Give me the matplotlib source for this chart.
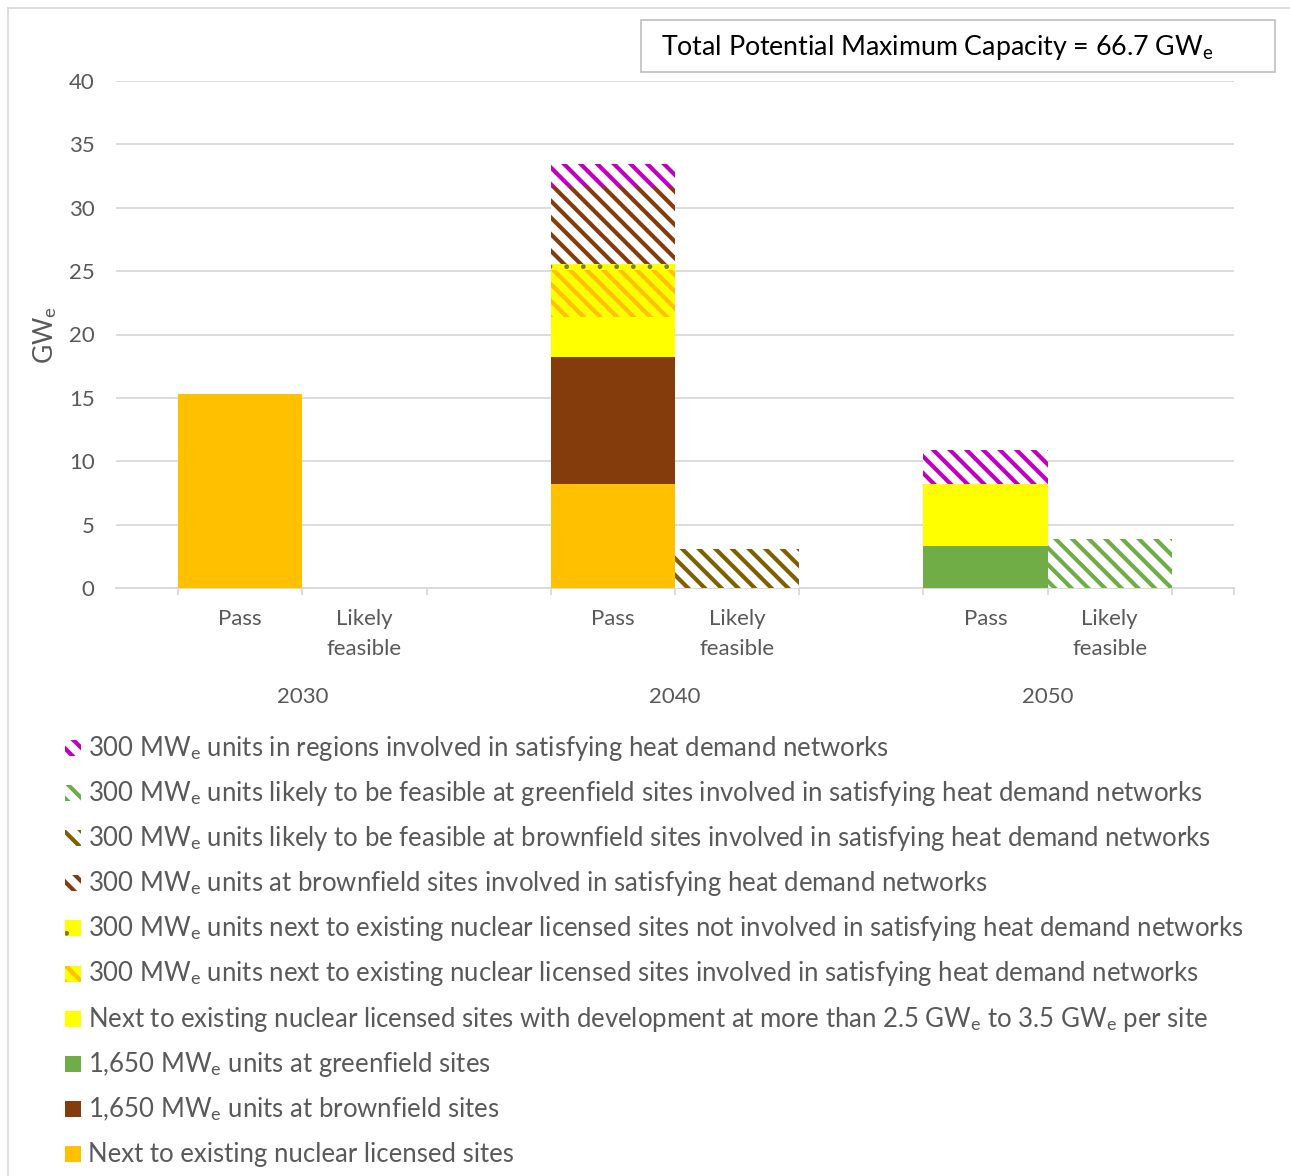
import matplotlib
matplotlib.use('Agg')
import matplotlib.pyplot as plt
from matplotlib.patches import Rectangle
from matplotlib.lines import Line2D

plt.rcParams['font.family'] = ['Lato', 'DejaVu Sans']
plt.rcParams['mathtext.fontset'] = 'custom'
plt.rcParams['mathtext.rm'] = 'Lato'
plt.rcParams['mathtext.it'] = 'Lato:italic'
plt.rcParams['mathtext.bf'] = 'Lato:bold'
plt.rcParams['hatch.linewidth'] = 3.0

# ---------------- data ----------------
years = ['2030', '2040', '2050']
stages = ['Pass', 'Likely\nfeasible']
# bar order: 2030 Pass, 2030 Likely, 2040 Pass, 2040 Likely, 2050 Pass, 2050 Likely
nuclear_sites          = [15.3, 0, 8.2, 0, 0.0, 0]
brownfield_1650        = [0, 0, 10.0, 0, 0, 0]
greenfield_1650        = [0, 0, 0, 0, 3.3, 0]
nuclear_sites_2p5      = [0, 0, 3.2, 0, 4.9, 0]
u300_nuclear_heat      = [0, 0, 3.7, 0, 0, 0]
u300_nuclear_noheat    = [0, 0, 0.5, 0, 0, 0]
u300_brownfield_heat   = [0, 0, 6.0, 0, 0, 0]
u300_brownfield_likely = [0, 0, 0, 3.1, 0, 0]
u300_greenfield_likely = [0, 0, 0, 0, 0, 3.9]
u300_regions_heat      = [0, 0, 1.85, 0, 2.7, 0]

series_values = [nuclear_sites, brownfield_1650, greenfield_1650, nuclear_sites_2p5,
                 u300_nuclear_heat, u300_nuclear_noheat, u300_brownfield_heat,
                 u300_brownfield_likely, u300_greenfield_likely, u300_regions_heat]

E = r'$_\mathregular{e}$'
series_labels = [
    'Next to existing nuclear licensed sites',
    '1,650 MW' + E + ' units at brownfield sites',
    '1,650 MW' + E + ' units at greenfield sites',
    'Next to existing nuclear licensed sites with development at more than 2.5 GW' + E + ' to 3.5 GW' + E + ' per site',
    '300 MW' + E + ' units next to existing nuclear licensed sites involved in satisfying heat demand networks',
    '300 MW' + E + ' units next to existing nuclear licensed sites not involved in satisfying heat demand networks',
    '300 MW' + E + ' units at brownfield sites involved in satisfying heat demand networks',
    '300 MW' + E + ' units likely to be feasible at brownfield sites involved in satisfying heat demand networks',
    '300 MW' + E + ' units likely to be feasible at greenfield sites involved in satisfying heat demand networks',
    '300 MW' + E + ' units in regions involved in satisfying heat demand networks',
]
# (face colour, hatch colour, hatch)
series_styles = [
    ('#FFC000', '#FFC000', None),
    ('#843C0C', '#843C0C', None),
    ('#70AD47', '#70AD47', None),
    ('#FFFF00', '#FFFF00', None),
    ('#FFFF00', '#FFC000', '\\\\'),
    ('#FFFF00', '#7F7F00', '.'),
    ('#FFFFFF', '#843C0C', '\\\\'),
    ('#FFFFFF', '#7F6000', '\\\\'),
    ('#FFFFFF', '#70AD47', '\\\\'),
    ('#FFFFFF', '#C000C0', '\\\\'),
]
total_label = 'Total Potential Maximum Capacity = 66.7 GW' + E

# ---------------- figure ----------------
W, H = 1290, 1176
fig = plt.figure(figsize=(W / 100, H / 100), dpi=100)
ax = fig.add_axes([116 / W, 1 - 588 / H, (1234 - 116) / W, (588 - 81) / H])

grey_txt = '#595959'
grid_c = '#D9D9D9'
tick_fs = 16

xpos = [1, 2, 4, 5, 7, 8]
bottom = [0.0] * len(xpos)
for vals, (fc, hc, hatch) in zip(series_values, series_styles):
    bars = ax.bar(xpos, vals, width=1.0, bottom=bottom, color=fc, edgecolor=hc,
                  linewidth=0, hatch=hatch, zorder=2)
    if hatch == '.':
        for b in bars:
            if hasattr(b, 'set_hatch_linewidth'):
                b.set_hatch_linewidth(1.0)
    bottom = [b + v for b, v in zip(bottom, vals)]

ax.set_xlim(0, 9)
ax.set_ylim(0, 40)
ax.set_yticks(range(0, 41, 5))
ax.yaxis.grid(True, color=grid_c, linewidth=1.3, zorder=0)
ax.set_axisbelow(True)
for s in ['top', 'right', 'left']:
    ax.spines[s].set_visible(False)
ax.spines['bottom'].set_color(grid_c)
ax.spines['bottom'].set_linewidth(1.3)
ax.spines['bottom'].set_zorder(1)
ax.tick_params(axis='y', length=0, pad=15.5, labelsize=tick_fs, labelcolor=grey_txt)
ax.set_xticks([0.5, 1.5, 2.5, 3.5, 4.5, 5.5, 6.5, 7.5, 8.5, 9.0])
ax.tick_params(axis='x', length=5, width=1.3, color=grid_c, labelbottom=False)

# category labels (two-level axis)
for gi, yr in enumerate(years):
    for si, st in enumerate(stages):
        x = xpos[gi * 2 + si]
        for li, line in enumerate(st.split('\n')):
            ax.annotate(line, xy=(x, 0), xycoords=('data', 'axes fraction'),
                        xytext=(0, -(31 + 30 * li) * 0.72), textcoords='offset points',
                        ha='center', va='center', fontsize=tick_fs, color=grey_txt)
    xc = (xpos[gi * 2] + xpos[gi * 2 + 1]) / 2
    ax.annotate(yr, xy=(xc, 0), xycoords=('data', 'axes fraction'),
                xytext=(0, -109 * 0.72), textcoords='offset points',
                ha='center', va='center', fontsize=tick_fs, color=grey_txt)

# y label
fig.text(45 / W, 1 - 335 / H, 'GW' + E, rotation=90, ha='center', va='center',
         fontsize=19, color=grey_txt)

# title box
fig.add_artist(Rectangle((641 / W, 1 - 72 / H), 634 / W, 52 / H, transform=fig.transFigure,
                         facecolor='white', edgecolor='#BFBFBF', linewidth=1.2))
fig.text(661 / W, 1 - 55 / H, total_label, ha='left', va='baseline', fontsize=19.3,
         color='black')

# outer frame
fig.add_artist(Line2D([8 / W, 8 / W], [0, 1 - 8 / H], transform=fig.transFigure,
                      color=grid_c, linewidth=1.2))
fig.add_artist(Line2D([8 / W, 1], [1 - 8 / H, 1 - 8 / H], transform=fig.transFigure,
                      color=grid_c, linewidth=1.2))

# legend (reverse order, top item first)
y0, dy = 748, 45.1
for i, idx in enumerate(range(len(series_labels) - 1, -1, -1)):
    fc, hc, hatch = series_styles[idx]
    yc = y0 + i * dy
    r = Rectangle((65 / W, 1 - (yc + 8) / H), 16 / W, 16 / H, transform=fig.transFigure,
                  facecolor=fc, edgecolor=hc, linewidth=0, hatch=hatch)
    if hatch == '.' and hasattr(r, 'set_hatch_linewidth'):
        r.set_hatch_linewidth(1.0)
    fig.add_artist(r)
    fig.text(88 / W, 1 - (yc + 8) / H, series_labels[idx], ha='left', va='baseline',
             fontsize=18.5, color=grey_txt)

fig.savefig('out.png', dpi=100, facecolor='white')
